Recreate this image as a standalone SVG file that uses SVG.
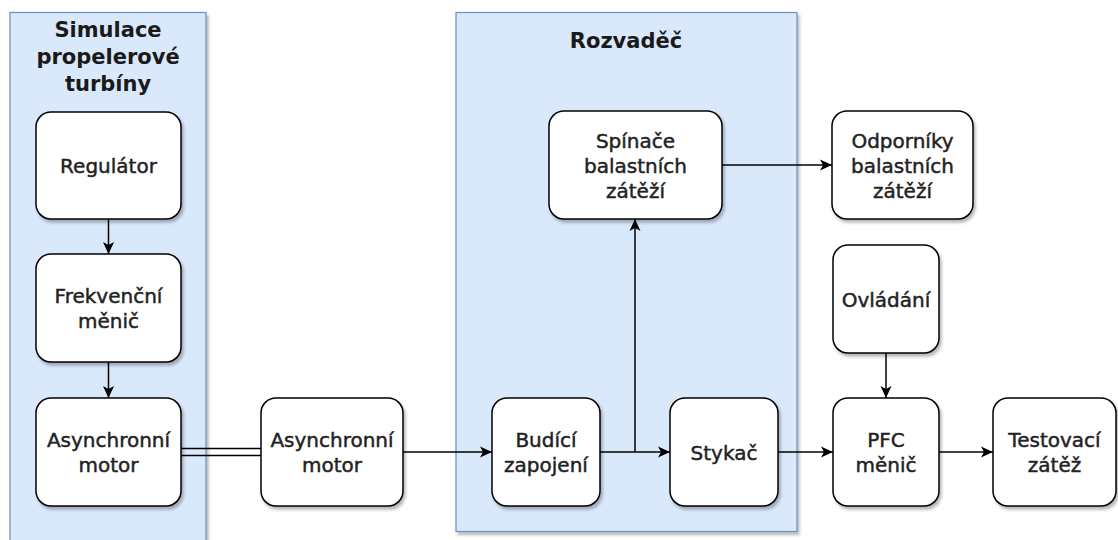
<svg xmlns="http://www.w3.org/2000/svg" width="1118" height="540" viewBox="0 0 1118 540">
<defs>
<filter id="sh" x="-10%" y="-10%" width="130%" height="130%">
<feDropShadow dx="2" dy="3" stdDeviation="1.5" flood-color="#000" flood-opacity="0.28"/>
</filter>
<marker id="arr" viewBox="0 0 12 12" refX="12" refY="6" markerWidth="12" markerHeight="12" markerUnits="userSpaceOnUse" orient="auto">
<path d="M0,0.5 L12,6 L0,11.5 L3,6 z" fill="#000"/>
</marker>
<style>
.cont{fill:#dae8fc;stroke:#6c8ebf;stroke-width:1.2;filter:url(#sh)}
.box{fill:#fff;stroke:#000;stroke-width:1.5;filter:url(#sh)}
.t{font-family:"DejaVu Sans",sans-serif;font-size:20px;fill:#222;stroke:#222;stroke-width:0.45;text-anchor:middle}
.h{font-family:"DejaVu Sans",sans-serif;font-size:21px;font-weight:bold;fill:#1a1a1a;text-anchor:middle}
.c{fill:none;stroke:#000;stroke-width:1.5}
.ca{fill:none;stroke:#000;stroke-width:1.5;marker-end:url(#arr)}
</style>
</defs>
<g id="sim">
<rect class="cont" x="10" y="12.5" width="196" height="540"/>
<text class="h" x="108" y="37">Simulace</text>
<text class="h" x="108" y="64">propelerové</text>
<text class="h" x="108" y="91">turbíny</text>
</g>
<g id="rozvadec">
<rect class="cont" x="456" y="12.5" width="341" height="519"/>
<text class="h" x="626" y="48">Rozvaděč</text>
</g>
<g id="regulator">
<rect class="box" x="36" y="112" width="145" height="107" rx="15"/>
<text class="t" x="108.5" y="172.5">Regulátor</text>
</g>
<g id="frekvencni">
<rect class="box" x="36" y="254" width="145" height="108" rx="15"/>
<text class="t" x="108.5" y="303">Frekvenční</text>
<text class="t" x="108.5" y="328">měnič</text>
</g>
<g id="async1">
<rect class="box" x="36" y="398" width="145" height="108" rx="15"/>
<text class="t" x="108.5" y="447">Asynchronní</text>
<text class="t" x="108.5" y="472">motor</text>
</g>
<g id="async2">
<rect class="box" x="261" y="398" width="142" height="108" rx="15"/>
<text class="t" x="332" y="447">Asynchronní</text>
<text class="t" x="332" y="472">motor</text>
</g>
<g id="budici">
<rect class="box" x="492" y="398" width="108" height="108" rx="15"/>
<text class="t" x="546" y="447">Budící</text>
<text class="t" x="546" y="472">zapojení</text>
</g>
<g id="stykac">
<rect class="box" x="670" y="398" width="108" height="108" rx="15"/>
<text class="t" x="724" y="459.5">Stykač</text>
</g>
<g id="spinace">
<rect class="box" x="549" y="111" width="173" height="108" rx="15"/>
<text class="t" x="635.5" y="147.5">Spínače</text>
<text class="t" x="635.5" y="172.5">balastních</text>
<text class="t" x="635.5" y="197.5">zátěží</text>
</g>
<g id="odporniky">
<rect class="box" x="832" y="111" width="141" height="108" rx="15"/>
<text class="t" x="902.5" y="147.5">Odporníky</text>
<text class="t" x="902.5" y="172.5">balastních</text>
<text class="t" x="902.5" y="197.5">zátěží</text>
</g>
<g id="ovladani">
<rect class="box" x="833" y="245" width="106" height="108" rx="15"/>
<text class="t" x="886" y="306.5">Ovládání</text>
</g>
<g id="pfc">
<rect class="box" x="833" y="398" width="106" height="108" rx="15"/>
<text class="t" x="886" y="447">PFC</text>
<text class="t" x="886" y="472">měnič</text>
</g>
<g id="testovaci">
<rect class="box" x="993" y="398" width="123" height="108" rx="15"/>
<text class="t" x="1054.5" y="447">Testovací</text>
<text class="t" x="1054.5" y="472">zátěž</text>
</g>
<g id="connectors">
<path class="ca" d="M108.5,219 V254"/>
<path class="ca" d="M108.5,362 V398"/>
<path class="c" d="M181,448.5 H261"/>
<path class="c" d="M181,455.5 H261"/>
<path class="ca" d="M403,452 H492"/>
<path class="ca" d="M600,452 H670"/>
<path class="ca" d="M635,452 V219"/>
<path class="ca" d="M722,165 H832"/>
<path class="ca" d="M778,452 H833"/>
<path class="ca" d="M886,353 V398"/>
<path class="ca" d="M939,452 H993"/>
</g>
</svg>
